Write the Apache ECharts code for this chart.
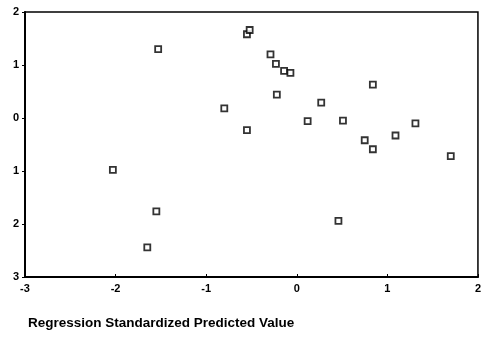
<!DOCTYPE html>
<html>
<head>
<meta charset="utf-8">
<script src="https://cdn.jsdelivr.net/npm/echarts@6/dist/echarts.min.js"></script>
<style>
  html, body { margin: 0; padding: 0; background: #fff; }
  #chart { width: 484px; height: 346px; }
</style>
</head>
<body>
<div id="chart"></div>
<script>
// predicted values (x) and residuals (y)
const predicted = [-1.53, -0.55, -0.52, -0.29, -0.23, -0.14, -0.07, -0.22, -0.80, 0.12, -0.55,
  0.84, 0.27, 0.51, 1.31, 1.09, 0.75, 0.84, 1.70, 0.46, -2.03, -1.55, -1.65]
const residual = [1.30, 1.58, 1.66, 1.20, 1.02, 0.89, 0.85, 0.44, 0.18, -0.06, -0.23,
  0.63, 0.29, -0.05, -0.10, -0.33, -0.42, -0.59, -0.72, -1.94, -0.98, -1.76, -2.44]

const xTicks = [-3, -2, -1, 0, 1, 2]
const yTicks = [-3, -2, -1, 0, 1, 2]

const points = predicted.map((x, i) => [x, residual[i]])

const chart = echarts.init(document.getElementById('chart'))

const labelFont = {
  color: '#000',
  fontFamily: 'Liberation Sans',
  fontWeight: 'bold',
  fontSize: 11
}

chart.setOption({
  animation: false,
  grid: {
    left: 25,
    top: 12,
    right: 2,
    bottom: 69,
    show: true,
    borderColor: '#000',
    borderWidth: 1.5
  },
  graphic: [{
    type: 'text',
    left: 28,
    top: 316,
    style: {
      text: 'Regression Standardized Predicted Value',
      fill: '#000',
      font: 'bold 13.5px "Liberation Sans"'
    }
  }],
  xAxis: {
    type: 'value',
    min: xTicks[0],
    max: xTicks[xTicks.length - 1],
    interval: 1,
    splitLine: { show: false },
    axisLine: { onZero: false, lineStyle: { color: '#000', width: 2 } },
    axisTick: { show: true, length: 3, inside: true, lineStyle: { color: '#000' } },
    axisLabel: { ...labelFont, margin: 6, showMaxLabel: true, showMinLabel: true }
  },
  yAxis: {
    type: 'value',
    min: yTicks[0],
    max: yTicks[yTicks.length - 1],
    interval: 1,
    splitLine: { show: false },
    axisLine: { onZero: false, lineStyle: { color: '#000', width: 2 } },
    axisTick: { show: true, length: 3, lineStyle: { color: '#000' } },
    axisLabel: { ...labelFont, margin: 6, formatter: v => String(Math.abs(v)) }
  },
  series: [{
    type: 'scatter',
    symbol: 'rect',
    symbolSize: 6,
    itemStyle: { color: '#fff', borderColor: '#000', borderWidth: 1.8 },
    data: points
  }]
})
</script>
</body>
</html>
